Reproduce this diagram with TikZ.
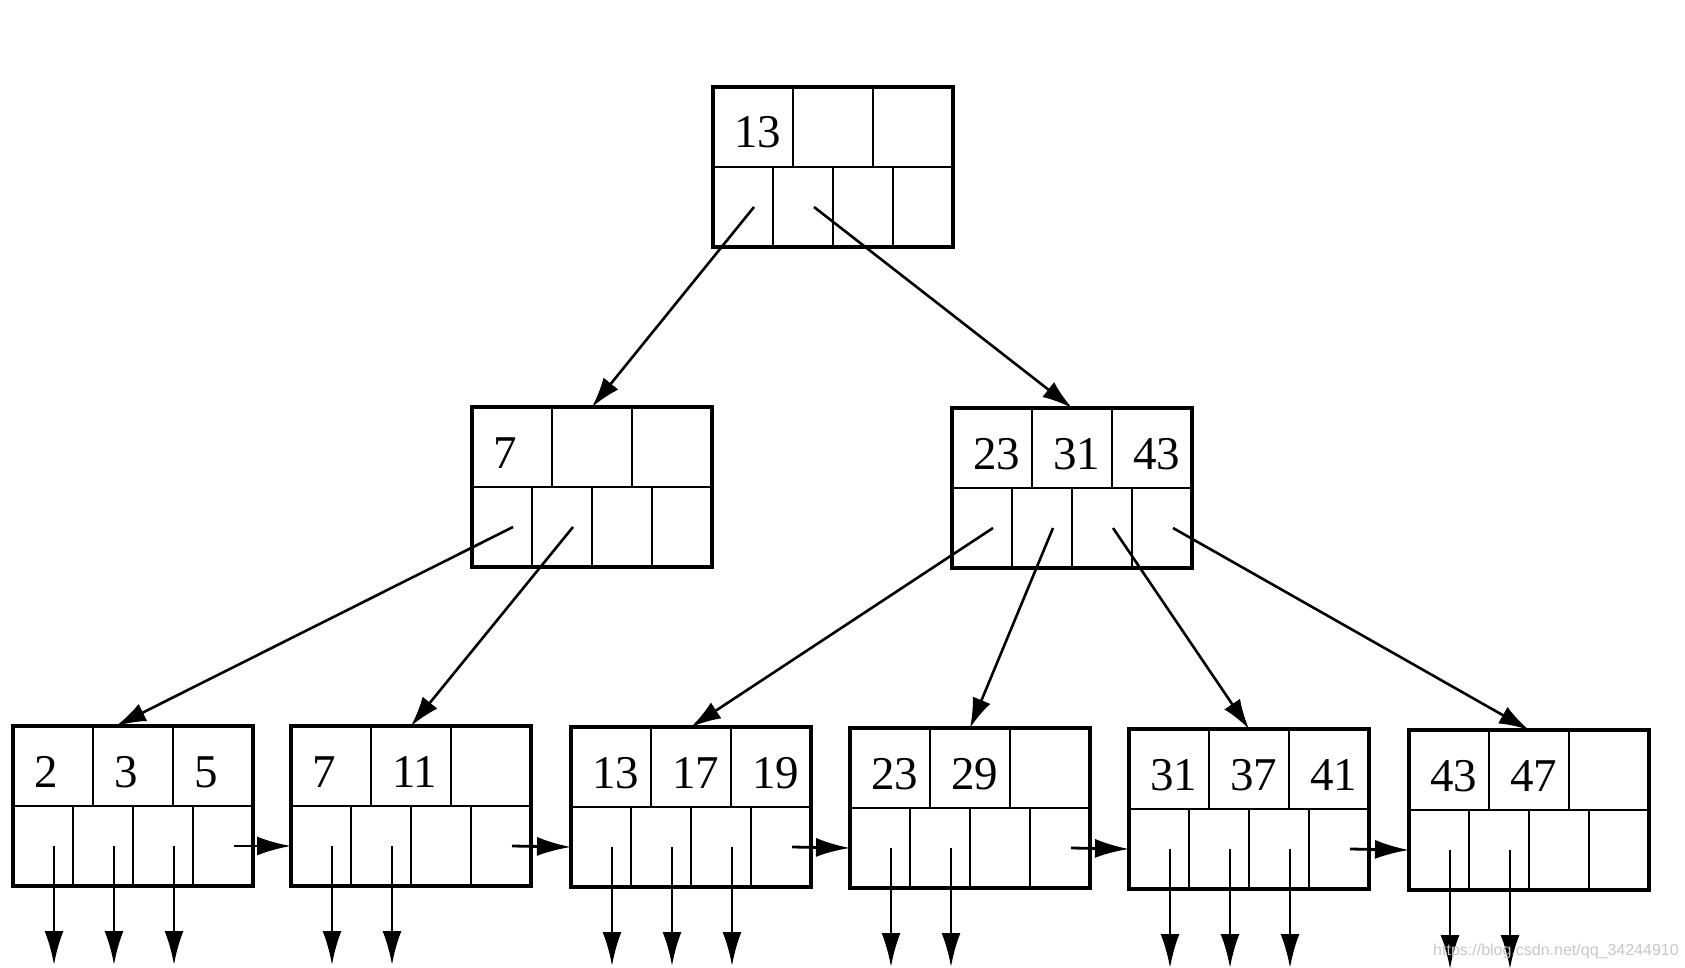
\documentclass[tikz,border=0pt]{standalone}
\usepackage{fontspec}
\setmainfont{Liberation Serif}
\newfontfamily\wmfont{Liberation Sans}
\usetikzlibrary{calc,arrows.meta}
\tikzset{
  box/.style={draw, line width=3.4pt, minimum width=240pt, minimum height=160pt, inner sep=0pt, outer sep=0pt, anchor=north west},
  div/.style={line width=2.8pt},
  keytext/.style={anchor=base west, inner sep=0pt, font=\fontsize{47}{47}\selectfont},
  ptr/.style={line width=2.6pt, -{Latex[length=30pt,width=19pt]}},
  dptr/.style={line width=2.8pt, -{Latex[length=34pt,width=19pt]}},
  wm/.style={anchor=base west, inner sep=0pt, text=black!22, font=\wmfont\fontsize{16}{16}\selectfont}
}
\newcommand\bpnode[6]{%
  \node[box] (#1) at (#2,#3) {};
  \draw[div] ($(#1.north west)+(0,80)$) -- ($(#1.north east)+(0,80)$);
  \draw[div] ($(#1.north west)+(80,0)$) -- ++(0,80);
  \draw[div] ($(#1.north west)+(160,0)$) -- ++(0,80);
  \draw[div] ($(#1.south west)+(60,0)$) -- ++(0,-80);
  \draw[div] ($(#1.south west)+(120,0)$) -- ++(0,-80);
  \draw[div] ($(#1.south west)+(180,0)$) -- ++(0,-80);
  \node[keytext] (#1-k1) at ($(#1.north west)+(21,61)$) {#4};
  \node[keytext] (#1-k2) at ($(#1.north west)+(101,61)$) {#5};
  \node[keytext] (#1-k3) at ($(#1.north west)+(181,61)$) {#6};
  \coordinate (#1-p0) at ($(#1.north west)+(41,120)$);
  \coordinate (#1-p1) at ($(#1.north west)+(101,120)$);
  \coordinate (#1-p2) at ($(#1.north west)+(161,120)$);
  \coordinate (#1-p3) at ($(#1.north west)+(221,120)$);
  \coordinate (#1-in) at ($(#1.north west)+(0,120)$);
  \coordinate (#1-d0) at ($(#1-p0)+(0,119)$);
  \coordinate (#1-d1) at ($(#1-p1)+(0,119)$);
  \coordinate (#1-d2) at ($(#1-p2)+(0,119)$);
}
\begin{document}
\begin{tikzpicture}[x=1pt,y=-1pt]
\useasboundingbox (0,0) rectangle (1685,968);
\bpnode{root}{713}{87}{13}{}{}
\bpnode{L}{472}{407}{7}{}{}
\bpnode{R}{952}{408}{23}{31}{43}
\bpnode{leafa}{13}{726}{2}{3}{5}
\bpnode{leafb}{291}{726}{7}{11}{}
\bpnode{leafc}{571}{727}{13}{17}{19}
\bpnode{leafd}{850}{728}{23}{29}{}
\bpnode{leafe}{1129}{729}{31}{37}{41}
\bpnode{leaff}{1409}{730}{43}{47}{}
\coordinate (leafa-t) at ($(leafa.north)+(-17,0)$);
% tree pointers
\draw[ptr] (root-p0) -- (L.north);
\draw[ptr] (root-p1) -- (R.north);
\draw[ptr] (L-p0) -- (leafa-t);
\draw[ptr] (L-p1) -- (leafb.north);
\draw[ptr] (R-p0) -- (leafc.north);
\draw[ptr] (R-p1) -- (leafd.north);
\draw[ptr] (R-p2) -- (leafe.north);
\draw[ptr] (R-p3) -- (leaff.north);
% sibling pointers
\draw[dptr] (leafa-p3) -- (leafb-in);
\draw[dptr] (leafb-p3) -- (leafc-in);
\draw[dptr] (leafc-p3) -- (leafd-in);
\draw[dptr] (leafd-p3) -- (leafe-in);
\draw[dptr] (leafe-p3) -- (leaff-in);
% record pointers
\foreach \lf in {leafa,leafc,leafe}{
  \draw[dptr] (\lf-p0) -- (\lf-d0);
  \draw[dptr] (\lf-p1) -- (\lf-d1);
  \draw[dptr] (\lf-p2) -- (\lf-d2);
}
\foreach \lf in {leafb,leafd,leaff}{
  \draw[dptr] (\lf-p0) -- (\lf-d0);
  \draw[dptr] (\lf-p1) -- (\lf-d1);
}
\node[wm] (wmark) at (1433,955) {https://blog.csdn.net/qq\_34244910};
\end{tikzpicture}
\end{document}
